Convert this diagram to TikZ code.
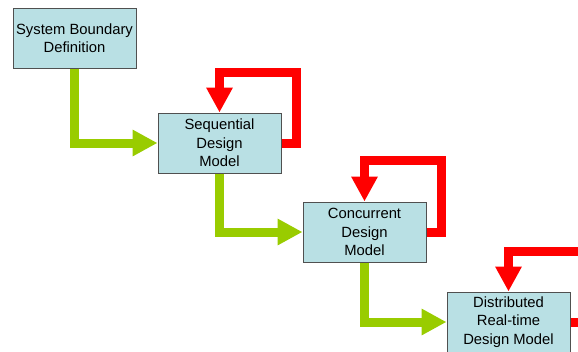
\documentclass[tikz,border=0pt]{standalone}
\usepackage{fontspec}
\setmainfont{Liberation Sans}
\usetikzlibrary{arrows.meta}

\definecolor{boxfill}{RGB}{185,224,228}
\definecolor{boxline}{RGB}{80,80,80}
\definecolor{limegreen}{RGB}{153,204,0}

\begin{document}
\begin{tikzpicture}[x=0.75pt,y=0.75pt,yscale=-1,xscale=1,
  stagebox/.style={draw=boxline,fill=boxfill,line width=0.75pt,minimum width=92.25pt,minimum height=45pt,inner sep=1pt,align=center,font=\fontsize{11.1}{13.8}\selectfont},
  flowarrow/.style={limegreen,line width=6.75pt,-{Triangle[width=18.75pt,length=18.75pt]}},
  loopback/.style={red,line width=6.75pt,-{Triangle[width=18.75pt,length=18.75pt]}}]
%set diagram size 578 x 351
\clip (0,0) rectangle (578,351);

% Boxes
\node [stagebox] (sbd) at (74.5,38) {System Boundary\\Definition};
\node [stagebox] (seq) at (219.5,143) {Sequential\\Design\\Model};
\node [stagebox] (conc) at (364.5,232) {Concurrent\\Design\\Model};
\node [stagebox] (dist) at (508.5,322) {Distributed\\Real-time\\Design Model};

% Green arrows
\draw [flowarrow] (sbd.south) |- (seq.west);
\draw [flowarrow] (seq.south) |- (conc.west);
\draw [flowarrow] (conc.south) |- (dist.west);

% Red loops
\draw [loopback] (seq.east) -- ++(15,0) -- ++(0,-71) -| (seq.north);
\draw [loopback] (conc.east) -- ++(15,0) -- ++(0,-72) -| (conc.north);
\draw [loopback] (dist.east) -- ++(15,0) -- ++(0,-71) -| (dist.north);

\end{tikzpicture}
\end{document}
